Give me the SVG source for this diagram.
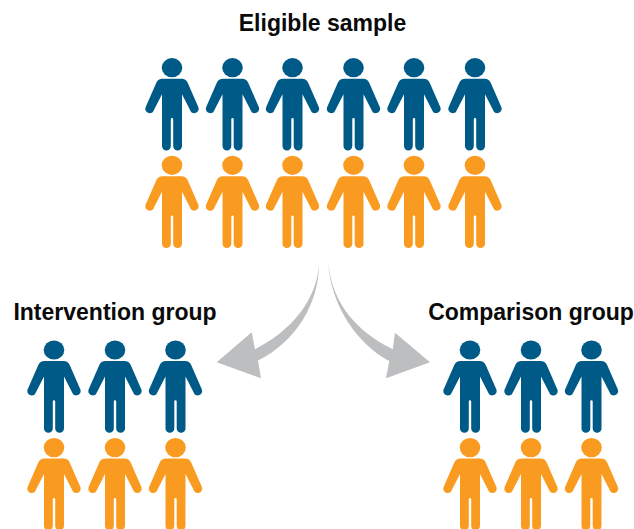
<svg xmlns="http://www.w3.org/2000/svg" width="634" height="529" viewBox="0 0 634 529">
<style>
.b{fill:#005a87}.o{fill:#fa9b21}
.t{font:bold 23px "Liberation Sans",Arial,sans-serif;fill:#0a0a0a;text-anchor:middle}
.a{fill:#bcbec0}
</style>
<defs>
<g id="p">
<ellipse cx="0" cy="0" rx="10.3" ry="9.6"/>
<path d="M-9.5,11H9.5C12.5,11 14.5,12.5 15.7,15L26.4,39.5C28.2,45 20.7,47.5 18.7,43.5L10,26.5V78.4A4.4,4.4 0 0 1 1.2,78.4V51.5A1.2,1.2 0 0 0 -1.2,51.5V78.4A4.4,4.4 0 0 1 -10,78.4V26.5L-18.7,43.5C-20.7,47.5 -28.2,45 -26.4,39.5L-15.7,15C-14.5,12.5 -12.5,11 -9.5,11Z"/>
</g>
</defs>
<rect width="634" height="529" fill="#fff"/>
<g id="connectors">
<path class="a" d="M319,264C317.5,290 302,325 255,349.3L251.7,332.3L216.7,362.3L261,378.3L258,360.5C296,342 319,303 319,264Z"/>
<path class="a" d="M328.3,262C331,295 348,327 392.7,349.3L395,332.7L430,362.3L386,378.3L389.3,361C358,345 330,305 328.3,262Z"/>
</g>
<g id="eligible-sample">
<text class="t" x="322.5" y="31">Eligible sample</text>
<use href="#p" class="b" x="172" y="67.7"/><use href="#p" class="b" x="232.5" y="67.7"/><use href="#p" class="b" x="292.5" y="67.7"/><use href="#p" class="b" x="353.5" y="67.7"/><use href="#p" class="b" x="414" y="67.7"/><use href="#p" class="b" x="475" y="67.7"/>
<use href="#p" class="o" x="172" y="165.3"/><use href="#p" class="o" x="232.5" y="165.3"/><use href="#p" class="o" x="292.5" y="165.3"/><use href="#p" class="o" x="353.5" y="165.3"/><use href="#p" class="o" x="414" y="165.3"/><use href="#p" class="o" x="475" y="165.3"/>
</g>
<g id="intervention-group">
<text class="t" x="115" y="320">Intervention group</text>
<use href="#p" class="b" x="54" y="350"/><use href="#p" class="b" x="115" y="350"/><use href="#p" class="b" x="175.5" y="350"/>
<use href="#p" class="o" x="54" y="447.6"/><use href="#p" class="o" x="115" y="447.6"/><use href="#p" class="o" x="175.5" y="447.6"/>
</g>
<g id="comparison-group">
<text class="t" x="531" y="320">Comparison group</text>
<use href="#p" class="b" x="470" y="350"/><use href="#p" class="b" x="531" y="350"/><use href="#p" class="b" x="591.5" y="350"/>
<use href="#p" class="o" x="470" y="447.6"/><use href="#p" class="o" x="531" y="447.6"/><use href="#p" class="o" x="591.5" y="447.6"/>
</g>
</svg>
